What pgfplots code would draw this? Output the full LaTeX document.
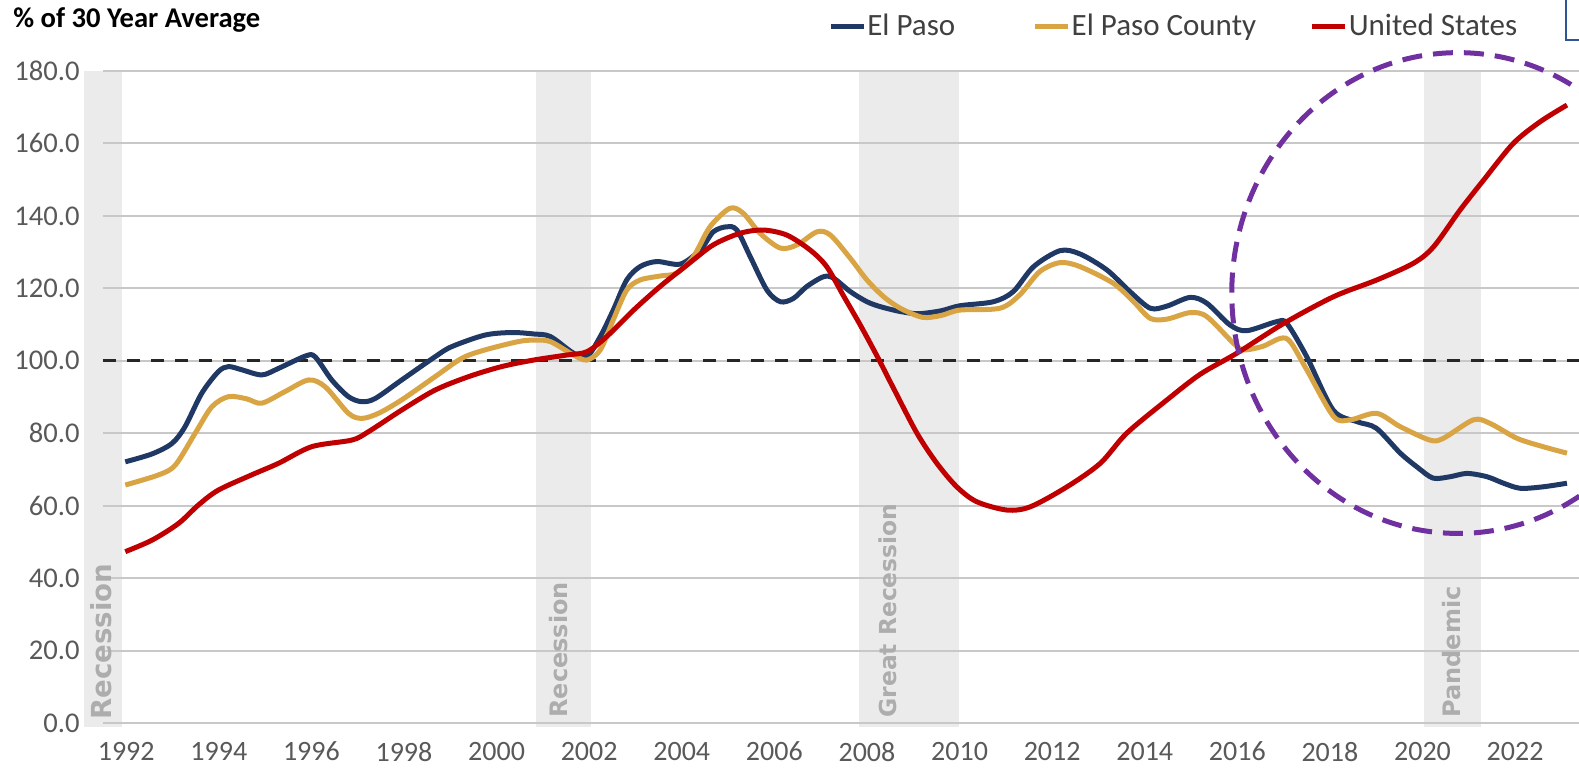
\documentclass[border=0pt]{standalone}
\usepackage{pgfplots}
\pgfplotsset{compat=1.18}
\usepackage{fontspec}
\setmainfont{Carlito}
\newfontfamily\bandfont{DejaVu Sans}
\definecolor{elpaso}{HTML}{203864}
\definecolor{county}{HTML}{D9A443}
\definecolor{usred}{HTML}{C00000}
\definecolor{bandgray}{HTML}{EBEBEB}
\definecolor{gridgray}{HTML}{C8C8C8}
\definecolor{tickgray}{HTML}{595959}
\definecolor{legtext}{HTML}{404040}
\definecolor{bandtext}{HTML}{ADADAD}
\definecolor{circ}{HTML}{7030A0}
\definecolor{boxblue}{HTML}{2F5597}
\begin{document}
\begin{tikzpicture}
\begin{axis}[
  set layers,
  at={(51.3pt,25pt)}, anchor=south west,
  scale only axis, width=738.2pt, height=326pt,
  xmin=1991.49, xmax=2023.38, ymin=0, ymax=180,
  clip=false,
  axis line style={draw=none},
  major tick length=0pt,
  xtick={1992,1994,...,2022},
  ytick={0,20,...,180},
  ymajorgrids, grid style={gridgray, line width=1pt},
  /pgf/number format/assume math mode=true,
  x tick label style={/pgf/number format/1000 sep={}, font=\fontsize{14}{14}\selectfont, text=tickgray, yshift=-6pt},
  y tick label style={/pgf/number format/fixed, /pgf/number format/fixed zerofill, /pgf/number format/precision=1, font=\fontsize{14.3}{14.3}\selectfont, text=tickgray, xshift=-8pt},
  legend columns=3,
  legend image code/.code={\draw[#1] (0pt,0pt) -- (16.5pt,0pt);},
  legend style={at={(0.4913,1.0687)}, anchor=west, draw=none, fill=none, inner sep=0pt,
    font=\fontsize{15.5}{15.5}\selectfont, text=legtext,
    nodes={inner xsep=0.5pt, inner ysep=0pt},
    /tikz/column 2/.style={column sep=38.2pt},
    /tikz/column 4/.style={column sep=26.3pt}},
]
\begin{pgfonlayer}{axis background}
\fill[bandgray] (axis cs:1991.09,-1) rectangle (axis cs:1991.9,180);
\fill[bandgray] (axis cs:2000.86,-1) rectangle (axis cs:2002.04,180);
\fill[bandgray] (axis cs:2007.82,-1) rectangle (axis cs:2009.99,180);
\fill[bandgray] (axis cs:2020.03,-1) rectangle (axis cs:2021.26,180);
\end{pgfonlayer}
\node[rotate=90, anchor=west, inner sep=0pt, font=\bandfont\bfseries\fontsize{13.8}{13.8}\selectfont, text=bandtext] at (axis cs:1991.47,0.8) {Recession};
\node[rotate=90, anchor=west, inner sep=0pt, font=\bandfont\bfseries\fontsize{12}{12}\selectfont, text=bandtext] at (axis cs:2001.33,1.4) {Recession};
\node[rotate=90, anchor=west, inner sep=0pt, font=\bandfont\bfseries\fontsize{11.7}{11.7}\selectfont, text=bandtext] at (axis cs:2008.44,1.4) {Great Recession};
\node[rotate=90, anchor=west, inner sep=0pt, font=\bandfont\bfseries\fontsize{12}{12}\selectfont, text=bandtext] at (axis cs:2020.63,1.4) {Pandemic};
\addplot[gridgray, line width=1pt, forget plot] coordinates {(1991.49,100) (2023.38,100)};
\addplot[black!85, line width=1.7pt, dash pattern=on 6.7pt off 5.3pt, forget plot] coordinates {(1991.49,100) (2023.38,100)};

\addplot[elpaso, line width=2.5pt, smooth, tension=0.5] coordinates {
(1991.98,72.1) (1992.56,74.3) (1992.99,77.2) (1993.27,81.8) (1993.63,91.0) (1993.99,97.0)
(1994.21,98.4) (1994.5,97.5) (1994.93,96.1) (1995.29,97.9) (1995.87,101.3) (1996.08,101.1)
(1996.44,94.7) (1996.8,90.1) (1997.09,88.7) (1997.38,89.6) (1997.95,94.7) (1998.67,101.1)
(1999.03,103.9) (1999.75,107.1) (2000.33,107.8) (2000.8,107.4) (2001.16,106.7) (2001.66,102.1)
(2001.95,101.1) (2002.24,106.7) (2002.52,114.0) (2002.81,122.3) (2003.1,126.0) (2003.46,127.4)
(2003.97,126.7) (2004.4,130.6) (2004.68,135.6) (2004.97,137.0) (2005.19,136.1) (2005.48,128.7)
(2005.84,119.5) (2006.13,116.3) (2006.41,117.2) (2006.7,120.5) (2007.06,123.2) (2007.28,122.8)
(2007.64,119.1) (2008.0,116.3) (2008.3,114.9) (2008.72,113.6) (2009.11,113.0) (2009.6,113.8)
(2010.01,115.2) (2010.73,116.3) (2011.16,119.1) (2011.6,126.0) (2012.17,130.4) (2012.6,129.5)
(2013.18,125.1) (2013.68,119.1) (2014.12,114.5) (2014.48,115.1) (2014.98,117.5) (2015.34,115.9)
(2015.84,109.9) (2016.2,108.3) (2016.85,110.8) (2017.07,110.3) (2017.5,101.1) (2018.07,86.4)
(2018.58,83.2) (2019.0,81.4) (2019.52,74.5) (2019.9,70.5) (2020.23,67.6) (2020.6,68.0)
(2020.96,68.9) (2021.39,68.0) (2021.75,66.2) (2022.11,64.8) (2022.6,65.2) (2023.12,66.2)
};
\addlegendentry{El Paso}
\addplot[county, line width=2.5pt, smooth, tension=0.5] coordinates {
(1991.98,65.7) (1992.7,68.5) (1993.06,71.2) (1993.49,80.0) (1993.85,87.3) (1994.21,90.1)
(1994.6,89.5) (1994.93,88.3) (1995.43,91.5) (1995.94,94.7) (1996.3,92.8) (1996.8,85.5)
(1997.09,84.1) (1997.45,85.5) (1997.95,89.2) (1998.67,95.6) (1999.25,100.7) (1999.75,103.0)
(2000.47,105.3) (2000.8,105.7) (2001.16,105.3) (2001.66,101.6) (2001.95,100.2) (2002.24,103.0)
(2002.52,111.3) (2002.81,119.5) (2003.1,122.3) (2003.53,123.4) (2003.89,124.2) (2004.25,128.7)
(2004.61,137.0) (2005.04,142.1) (2005.33,140.7) (2005.69,135.2) (2006.13,131.1) (2006.49,132.0)
(2006.92,135.6) (2007.21,134.7) (2007.64,128.3) (2008.0,122.3) (2008.36,117.7) (2008.72,114.5)
(2009.2,112.0) (2009.6,112.5) (2010.01,114.0) (2010.87,114.5) (2011.3,118.2) (2011.73,124.6)
(2012.17,127.1) (2012.6,126.0) (2013.32,121.4) (2013.76,116.3) (2014.12,111.7) (2014.48,111.5)
(2014.98,113.3) (2015.34,112.2) (2015.92,104.8) (2016.13,103.0) (2016.55,104.0) (2016.93,106.2)
(2017.14,105.3) (2017.5,97.5) (2018.08,84.6) (2018.44,83.7) (2019.01,85.5) (2019.52,81.8)
(2020.16,78.1) (2020.45,78.6) (2021.1,83.7) (2021.46,82.7) (2022.04,78.6) (2022.6,76.3)
(2023.12,74.5)
};
\addlegendentry{El Paso County}
\addplot[usred, line width=2.5pt, smooth, tension=0.5] coordinates {
(1991.98,47.3) (1992.56,50.5) (1993.13,55.1) (1993.56,60.2) (1993.99,64.3) (1994.71,68.5)
(1995.29,71.7) (1996.01,76.3) (1996.87,78.1) (1997.23,80.4) (1997.95,86.4) (1998.67,91.9)
(1999.39,95.6) (2000.11,98.4) (2000.8,100.2) (2001.52,101.6) (2001.95,102.5) (2002.38,106.7)
(2002.96,114.0) (2003.53,120.5) (2004.11,126.4) (2004.68,132.0) (2005.26,135.2) (2005.76,136.1)
(2006.27,134.7) (2006.77,130.6) (2007.13,126.0) (2007.49,118.0) (2007.85,110.0) (2008.21,101.5)
(2008.57,92.5) (2009.08,80.0) (2009.51,71.7) (2009.94,65.2) (2010.37,61.1) (2011.02,58.8)
(2011.53,59.7) (2012.32,65.2) (2013.04,71.7) (2013.61,80.0) (2014.48,89.2) (2015.2,96.3)
(2015.99,102.1) (2017.0,110.3) (2018.08,117.7) (2019.01,122.3) (2019.8,126.9) (2020.24,131.5)
(2020.81,141.6) (2021.32,149.9) (2021.96,160.0) (2022.54,166.0) (2023.12,170.6)
};
\addlegendentry{United States}
\draw[circ, line width=2.5pt, dash pattern=on 10pt off 5.5pt] (axis cs:2020.77,118.7) ellipse [x radius=113.2pt, y radius=120.2pt];
\end{axis}
\node[anchor=base west, inner sep=0pt, font=\bfseries\fontsize{14.3}{14.3}\selectfont] at (6.5pt,372.5pt) {\% of 30 Year Average};
\draw[boxblue, line width=1pt] (783pt,387pt) -- (783pt,366.5pt) -- (791pt,366.5pt);
\pgfresetboundingbox
\path[use as bounding box] (0,0) rectangle (789.5pt,386.5pt);
\end{tikzpicture}
\end{document}
